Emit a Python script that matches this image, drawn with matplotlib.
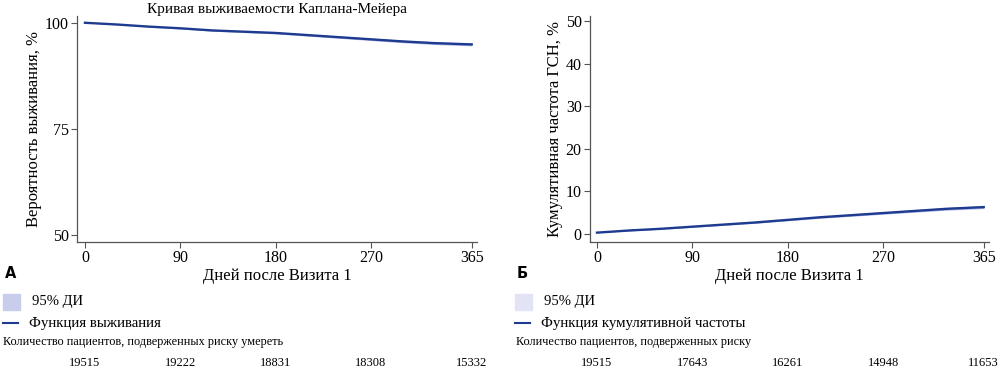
import matplotlib.pyplot as plt
import matplotlib.transforms as mtransforms
from matplotlib.patches import Rectangle
from matplotlib.lines import Line2D

plt.rcParams['font.family'] = ['Liberation Serif', 'DejaVu Serif']

days = [0, 30, 60, 90, 120, 150, 180, 210, 240, 270, 300, 330, 365]
survival = [100, 99.6, 99.1, 98.7, 98.2, 97.9, 97.6, 97.1, 96.6, 96.1, 95.6, 95.2, 94.9]
surv_ci = [0.0, 0.1, 0.12, 0.15, 0.18, 0.2, 0.22, 0.24, 0.26, 0.28, 0.3, 0.32, 0.34]
cuminc = [0.3, 0.8, 1.2, 1.7, 2.2, 2.7, 3.3, 3.9, 4.4, 4.9, 5.4, 5.9, 6.3]
cum_ci = [0.05, 0.1, 0.12, 0.15, 0.18, 0.2, 0.22, 0.24, 0.26, 0.28, 0.3, 0.32, 0.34]

xticks = [0, 90, 180, 270, 365]
risk_death = [19515, 19222, 18831, 18308, 15332]
risk_hf = [19515, 17643, 16261, 14948, 11653]

line_c = '#1f3b90'
band_c = '#a9b3e3'
W, H = 1000, 378

fig = plt.figure(figsize=(10, 3.78), dpi=100)
ax1 = fig.add_axes([77 / W, 1 - 242 / H, 400 / W, 226 / H])
ax2 = fig.add_axes([590 / W, 1 - 242 / H, 399 / W, 226 / H])


def style(ax):
    for s in ['top', 'right']:
        ax.spines[s].set_visible(False)
    for s in ['left', 'bottom']:
        ax.spines[s].set_color('#555555')
        ax.spines[s].set_linewidth(0.9)
    ax.tick_params(direction='out', length=4, width=0.8, color='#555555',
                   labelsize=11.5, pad=2)
    ax.set_xticks(xticks)
    ax.set_xlabel('Дней после Визита 1', fontsize=12, labelpad=1)


lo = [s - c for s, c in zip(survival, surv_ci)]
hi = [s + c for s, c in zip(survival, surv_ci)]
ax1.fill_between(days, lo, hi, color=band_c, lw=0)
ax1.plot(days, survival, color=line_c, lw=1.7)
ax1.set_xlim(-7.5, 370)
ax1.set_ylim(48.3, 101.6)
ax1.set_yticks([50, 75, 100])
ax1.set_ylabel('Вероятность выживания, %', fontsize=12, labelpad=2)
ax1.set_title('Кривая выживаемости Каплана-Мейера', fontsize=11, pad=1)
style(ax1)

lo = [s - c for s, c in zip(cuminc, cum_ci)]
hi = [s + c for s, c in zip(cuminc, cum_ci)]
ax2.fill_between(days, lo, hi, color=band_c, lw=0)
ax2.plot(days, cuminc, color=line_c, lw=1.7)
ax2.set_xlim(-6.6, 370)
ax2.set_ylim(-1.9, 51.2)
ax2.set_yticks([0, 10, 20, 30, 40, 50])
ax2.set_ylabel('Кумулятивная частота ГСН, %', fontsize=12, labelpad=2)
style(ax2)


def fy(py):
    return 1 - py / H


# panel letters
fig.text(5 / W, fy(274), 'А', fontsize=10.5, fontweight='bold',
         family='DejaVu Sans', va='center')
fig.text(517 / W, fy(274), 'Б', fontsize=10.5, fontweight='bold',
         family='DejaVu Sans', va='center')

# legends
legend_items = [(3, 'Функция выживания', '#c9cdec'),
                (515, 'Функция кумулятивной частоты', '#e2e4f5')]
for x0, label, pc in legend_items:
    fig.patches.append(Rectangle((x0 / W, fy(310)), 17 / W, 16 / H,
                                 transform=fig.transFigure, color=pc))
    fig.text((x0 + 29) / W, fy(302), '95% ДИ', fontsize=10.5, va='center')
    fig.lines.append(Line2D([x0 / W, (x0 + 15) / W], [fy(323), fy(323)],
                            transform=fig.transFigure, color=line_c, lw=1.5))
    fig.text((x0 + 26) / W, fy(323), label, fontsize=10.7, va='center')

# at-risk tables
fig.text(3 / W, fy(342), 'Количество пациентов, подверженных риску умереть',
         fontsize=8.8, va='center')
fig.text(516 / W, fy(342), 'Количество пациентов, подверженных риску',
         fontsize=8.8, va='center')
for ax, counts in [(ax1, risk_death), (ax2, risk_hf)]:
    tr = mtransforms.blended_transform_factory(ax.transData, fig.transFigure)
    for xv, n in zip(xticks, counts):
        fig.text(xv, fy(363), str(n), transform=tr, fontsize=9,
                 ha='center', va='center')

fig.savefig('out.png', dpi=100)
